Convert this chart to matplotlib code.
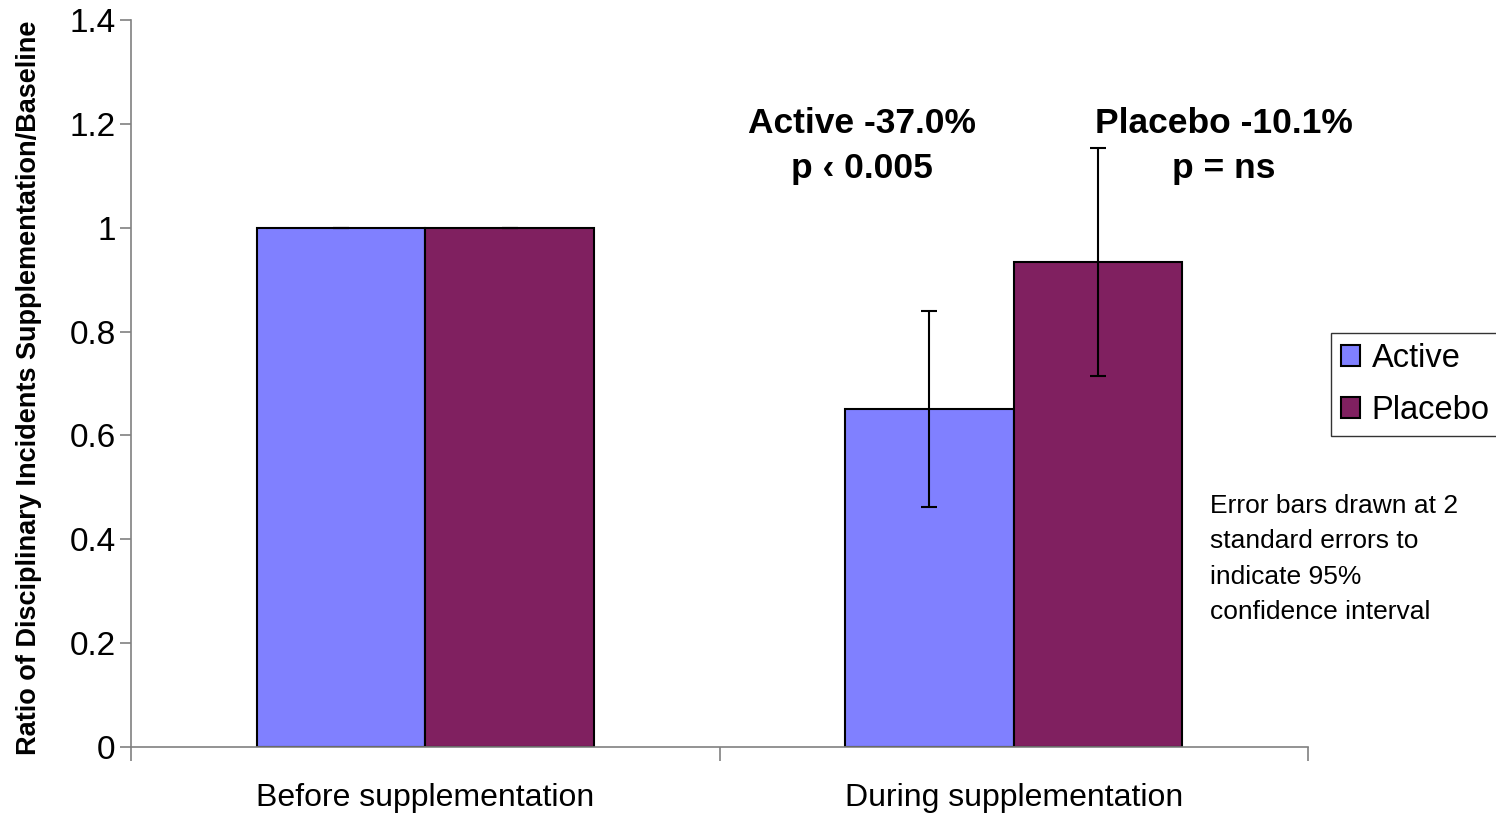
import matplotlib
matplotlib.use("Agg")
import matplotlib.pyplot as plt
import numpy as np

plt.rcParams['font.family'] = ['Liberation Sans', 'DejaVu Sans']

categories = ["Before supplementation", "During supplementation"]
series_names = ["Active", "Placebo"]
active_vals = [1.0, 0.651]
placebo_vals = [1.0, 0.934]
active_err = [0.0, 0.189]
placebo_err = [0.0, 0.219]
y_ticks = [0, 0.2, 0.4, 0.6, 0.8, 1.0, 1.2, 1.4]
y_tick_labels = ["0", "0.2", "0.4", "0.6", "0.8", "1", "1.2", "1.4"]
annotations = ["Active -37.0%\np \u2039 0.005", "Placebo -10.1%\np = ns"]
note = "Error bars drawn at 2\nstandard errors to\nindicate 95%\nconfidence interval"

colors = ["#8080FF", "#802060"]

fig = plt.figure(figsize=(14.96, 8.13), dpi=100)
ax = fig.add_axes([131/1496, 1-747/813, (1308-131)/1496, (747-20)/813])

centers = np.arange(len(categories)) + 0.5
w = 168.5/588.5
ekw = dict(ecolor="black", elinewidth=1.5, capsize=6, capthick=1.5)
b1 = ax.bar(centers - w/2, active_vals, width=w, color=colors[0], edgecolor="black",
            linewidth=1.5, yerr=active_err, error_kw=ekw, label=series_names[0])
b2 = ax.bar(centers + w/2, placebo_vals, width=w, color=colors[1], edgecolor="black",
            linewidth=1.5, yerr=placebo_err, error_kw=ekw, label=series_names[1])

ax.set_xlim(0, len(categories))
ax.set_ylim(0, 1.4)
ax.set_yticks(y_ticks)
ax.set_yticklabels(y_tick_labels, fontsize=24)
ax.set_xticks(np.arange(len(categories) + 1))
ax.set_xticklabels([])
ax.set_xticks(centers, minor=True)
ax.set_xticklabels(categories, minor=True, fontsize=23)
ax.tick_params(axis="x", which="minor", length=0, pad=37)
ax.tick_params(axis="x", which="major", length=10, direction="out", color="#808080", width=1.2)
ax.tick_params(axis="y", length=8, direction="out", color="#808080", width=1.2, pad=3)
for lbl in ax.get_xticklabels(minor=True):
    lbl.set_verticalalignment("center")

for s in ["top", "right"]:
    ax.spines[s].set_visible(False)
for s in ["left", "bottom"]:
    ax.spines[s].set_color("#808080")
    ax.spines[s].set_linewidth(1.2)

ax.set_ylabel("Ratio of Disciplinary Incidents Supplementation/Baseline",
              fontsize=19.5, fontweight="bold")
ax.yaxis.set_label_coords(-0.0755, 0.494)

ax.text(1.242, 1.158, annotations[0], ha="center", va="center",
        fontsize=25.5, fontweight="bold", linespacing=1.45)
ax.text(1.857, 1.158, annotations[1], ha="center", va="center",
        fontsize=25.5, fontweight="bold", linespacing=1.45)

fig.text(1210/1496, 1-494/813, note, ha="left", va="top", fontsize=19, linespacing=1.6)

leg = fig.legend(handles=[b1, b2], labels=series_names, loc="upper left",
                 bbox_to_anchor=(1331/1496, 1-333/813), fontsize=23.5,
                 frameon=True, fancybox=False, edgecolor="black",
                 handlelength=0.6, handleheight=0.6, handletextpad=0.35,
                 borderpad=0.3, labelspacing=0.65, borderaxespad=0)
leg.get_frame().set_linewidth(1.0)

fig.savefig("out.png", dpi=100)
